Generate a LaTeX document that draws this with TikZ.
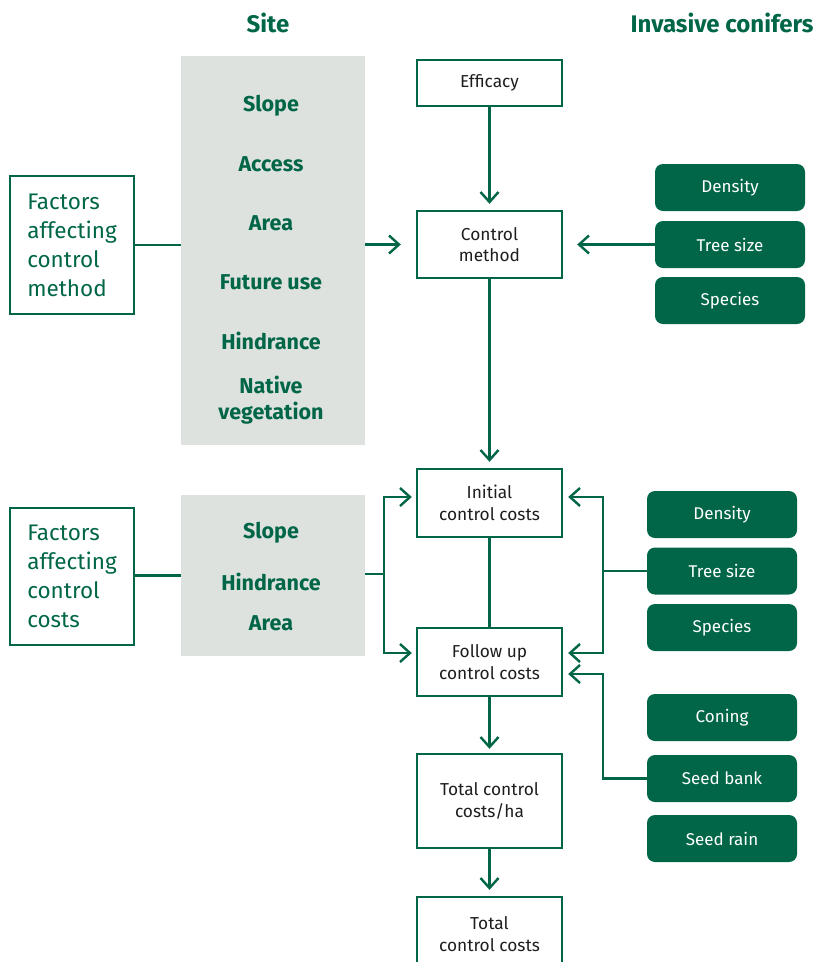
\documentclass[tikz,border=0pt]{standalone}
\usepackage{fontspec}
\setmainfont{Fira Sans}
\usetikzlibrary{arrows.meta}
\definecolor{fgreen}{HTML}{006647}
\definecolor{pgrey}{HTML}{DDE2DE}
\definecolor{ftext}{HTML}{1E1E1E}
\begin{document}
\begin{tikzpicture}[x=1pt,y=-1pt,
  flow/.style={draw=fgreen, line width=2.4pt, fill=white, minimum width=145pt, text=ftext, align=center, inner sep=2pt, font=\fontsize{17.3}{21.5}\selectfont},
  factor/.style={draw=fgreen, line width=2.4pt, minimum width=124pt, text=fgreen, align=left, inner sep=2pt, font=\fontsize{22.5}{29}\selectfont},
  panel/.style={fill=pgrey, draw=none, minimum width=184pt, inner sep=0pt},
  sitetxt/.style={text=fgreen, font=\bfseries\fontsize{21.5}{26}\selectfont, align=center},
  conif/.style={fill=fgreen, draw=none, rounded corners=8pt, minimum width=150pt, minimum height=47pt, text=white, font=\fontsize{17}{20}\selectfont},
  header/.style={text=fgreen, font=\bfseries\fontsize{24}{28}\selectfont},
  conn/.style={draw=fgreen, line width=2.4pt},
  arr/.style={conn, -{Straight Barb[length=10pt,width=18pt]}}
]
\useasboundingbox (0,0) rectangle (818,962);

% headers
\node[header] (hsite) at (268,23) {Site};
\node[header] (hconif) at (722,23) {Invasive conifers};

% panels
\node[panel, minimum height=389pt] (p1) at (273,250.5) {};
\node[panel, minimum height=161pt] (p2) at (273,575.5) {};

\node[sitetxt] (s1) at (271,106) {Slope};
\node[sitetxt] (s2) at (271,164) {Access};
\node[sitetxt] (s3) at (271,223) {Area};
\node[sitetxt] (s4) at (271,282) {Future use};
\node[sitetxt] (s5) at (271,341) {Hindrance};
\node[sitetxt] (s6) at (271,400) {Native\\vegetation};

\node[sitetxt] (t1) at (271,533) {Slope};
\node[sitetxt] (t2) at (271,582) {Hindrance};
\node[sitetxt] (t3) at (271,623) {Area};

% factor boxes
\node[factor, minimum height=138pt] (f1) at (72,245) {Factors\\affecting\\control\\method};
\node[factor, minimum height=137pt] (f2) at (72,576.5) {Factors\\affecting\\control\\costs};

% flow boxes
\node[flow, minimum height=46pt] (eff) at (489.5,83) {Efficacy};
\node[flow, minimum height=67pt] (cm) at (489.5,244.5) {Control\\method};
\node[flow, minimum height=68pt] (ini) at (489.5,503) {Initial\\control costs};
\node[flow, minimum height=68pt] (fol) at (489.5,662) {Follow up\\control costs};
\node[flow, minimum height=94pt] (tch) at (489.5,801) {Total control\\costs/ha};
\node[flow, minimum height=74pt] (tot) at (489.5,934) {Total\\control costs};

% conifer boxes
\node[conif] (d1) at (730,187.5) {Density};
\node[conif] (ts1) at (730,244.5) {Tree size};
\node[conif] (sp1) at (730,300.5) {Species};

\node[conif] (d2) at (722,514.5) {Density};
\node[conif] (ts2) at (722,571) {Tree size};
\node[conif] (sp2) at (722,627.5) {Species};
\node[conif] (co) at (722,717.5) {Coning};
\node[conif] (sb) at (722,778.5) {Seed bank};
\node[conif] (sr) at (722,838.5) {Seed rain};

% junctions
\coordinate (jl) at (384,574);
\coordinate (jr) at (603,571);
\coordinate (js) at (603,778.5);

% connectors upper part
\draw[conn] (f1.east) -- (p1.west |- f1.east);
\draw[arr, shorten >=15pt] (p1.east |- cm.west) -- (cm.west);
\draw[arr, shorten >=14pt] (ts1.west) -- (cm.east);
\draw[arr, shorten >=6pt] (eff.south) -- (cm.north);
\draw[arr, shorten >=6pt] (cm.south) -- (ini.north);

% middle
\draw[conn] (ini.south) -- (fol.north);
\draw[conn] (f2.east |- p2.west) -- (p2.west);
\draw[conn] (p2.east |- jl) -- (jl);
\draw[arr, shorten >=4pt] (jl) |- ([yshift=6pt]ini.west);
\draw[arr, shorten >=4pt] (jl) |- ([yshift=9pt]fol.west);

\draw[conn] (ts2.west) -- (jr);
\draw[arr, shorten >=5pt] (jr) |- ([yshift=6pt]ini.east);
\draw[arr, shorten >=5pt] (jr) |- ([yshift=9pt]fol.east);
\draw[arr, shorten >=5pt] (sb.west) -- (js) |- ([yshift=-12pt]fol.east);

% bottom
\draw[arr, shorten >=4pt] (fol.south) -- (tch.north);
\draw[arr, shorten >=6pt] (tch.south) -- (tot.north);
\end{tikzpicture}
\end{document}
